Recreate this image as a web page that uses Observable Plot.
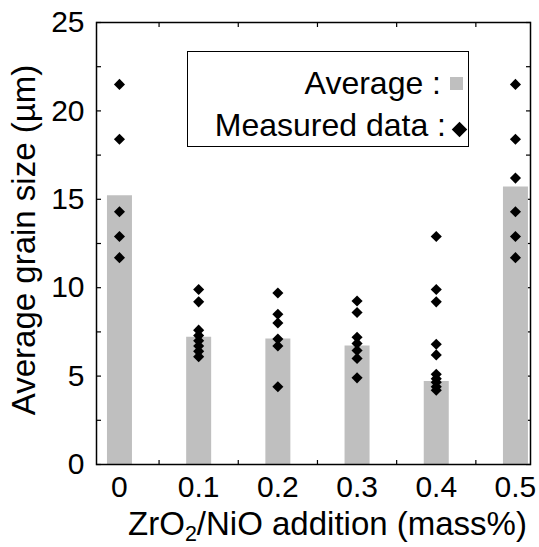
<!DOCTYPE html>
<html><head><meta charset="utf-8">
<script src="https://cdn.jsdelivr.net/npm/d3@7"></script>
<script src="https://cdn.jsdelivr.net/npm/@observablehq/plot@0.6"></script>
<style>
body{margin:0;background:#fff;}
#wrap{position:relative;width:539px;height:547px;overflow:hidden;font-family:"Liberation Sans",Arial,sans-serif;color:#000;}
#wrap svg{position:absolute;left:0;top:0;}
.ov{position:absolute;white-space:nowrap;}
.sub{font-size:0.65em;line-height:1;position:relative;top:0.28em;}
</style></head><body><div id="wrap"></div>
<script>
// ---- data ----
const additions = [0, 0.1, 0.2, 0.3, 0.4, 0.5];
const averages = [15.2, 7.2, 7.1, 6.7, 4.7, 15.7];
const measured_00 = [21.5, 18.4, 14.3, 12.9, 11.7];
const measured_01 = [9.9, 9.2, 7.6, 7.3, 7.0, 6.7, 6.4, 6.1];
const measured_02 = [9.7, 8.5, 8.0, 7.1, 6.7, 4.4];
const measured_03 = [9.25, 8.6, 7.2, 6.85, 6.45, 6.0, 4.9];
const measured_04 = [12.9, 9.9, 9.2, 6.8, 6.2, 5.1, 4.85, 4.65, 4.4, 4.2];
const measured_05 = [21.5, 18.4, 16.2, 14.3, 12.9, 11.7];
const measuredSets = [measured_00, measured_01, measured_02, measured_03, measured_04, measured_05];
const yTickLabels = [0, 5, 10, 15, 20, 25];
const yMinorTicks = [0, 2.5, 5, 7.5, 10, 12.5, 15, 17.5, 20, 22.5, 25];
const xTickLabels = [0, 0.1, 0.2, 0.3, 0.4, 0.5];
const xMinorTicks = [0.05, 0.15, 0.25, 0.35, 0.45];

const bars = additions.map((x, i) => ({x, avg: averages[i]}));
const points = additions.flatMap((x, i) => measuredSets[i].map(y => ({x, y})));

const barColor = "#bfbfbf";

const chart = Plot.plot({
  width: 539, height: 547,
  marginLeft: 96, marginRight: 9, marginTop: 22, marginBottom: 83,
  style: {fontFamily: '"Liberation Sans", Arial, sans-serif', fontSize: "30px", color: "#000", background: "transparent"},
  x: {domain: [-0.029, 0.519], label: null},
  y: {domain: [0, 25], label: null},
  marks: [
    // inward minor ticks
    Plot.axisX(xMinorTicks, {anchor: "bottom", tickSize: 4, dy: -4, tickFormat: () => "", label: null, strokeWidth: 1.2}),
    Plot.axisX(xMinorTicks, {anchor: "top", tickSize: 4, dy: 4, tickFormat: () => "", label: null, strokeWidth: 1.2}),
    Plot.axisY(yMinorTicks, {anchor: "left", tickSize: 5, dx: 5, tickFormat: () => "", label: null, strokeWidth: 1.2}),
    Plot.axisY(yMinorTicks, {anchor: "right", tickSize: 5, dx: -5, tickFormat: () => "", label: null, strokeWidth: 1.2}),
    // bars
    Plot.ruleX(bars, {x: "x", y1: 0, y2: "avg", stroke: barColor, strokeWidth: 25}),
    // measured points
    Plot.dot(points, {x: "x", y: "y", symbol: "diamond2", r: 5, fill: "#000", stroke: "none"}),
    // tick labels
    Plot.axisY(yTickLabels, {anchor: "left", tickSize: 0, tickPadding: 12, fontSize: 30, label: null}),
    Plot.axisX(xTickLabels, {anchor: "bottom", tickSize: 0, tickPadding: 11, fontSize: 30, label: null, tickFormat: d => String(d)}),
    Plot.frame({stroke: "#000", strokeWidth: 1.5})
  ]
});

const wrap = document.getElementById("wrap");
wrap.appendChild(chart);

function addDiv(html, css) {
  const d = document.createElement("div");
  d.className = "ov";
  d.innerHTML = html;
  Object.assign(d.style, css);
  wrap.appendChild(d);
  return d;
}

// axis titles
addDiv("Average grain size (µm)", {
  left: (24 - 250) + "px", top: (240 - 20) + "px", width: "500px", height: "40px",
  lineHeight: "40px", fontSize: "33px", textAlign: "center", transform: "rotate(-90deg)"
});
addDiv('ZrO<span class="sub">2</span>/NiO addition (mass%)', {
  left: "0px", width: "655px", top: "505px", height: "38px", lineHeight: "38px",
  fontSize: "33px", textAlign: "center"
});

// legend
addDiv("", {left: "187px", top: "51px", width: "282px", height: "96px", border: "1.5px solid #000", boxSizing: "border-box"});
addDiv("Average :", {right: (539 - 441) + "px", top: "67px", height: "32px", lineHeight: "32px", fontSize: "32px", textAlign: "right"});
addDiv("Measured data :", {right: (539 - 446) + "px", top: "109px", height: "32px", lineHeight: "32px", fontSize: "32px", textAlign: "right"});
addDiv("", {left: "450px", top: "77px", width: "13px", height: "13px", background: barColor});
addDiv("", {left: "453.5px", top: "123.5px", width: "11px", height: "11px", background: "#000", transform: "rotate(45deg)"});
</script>
</body></html>
